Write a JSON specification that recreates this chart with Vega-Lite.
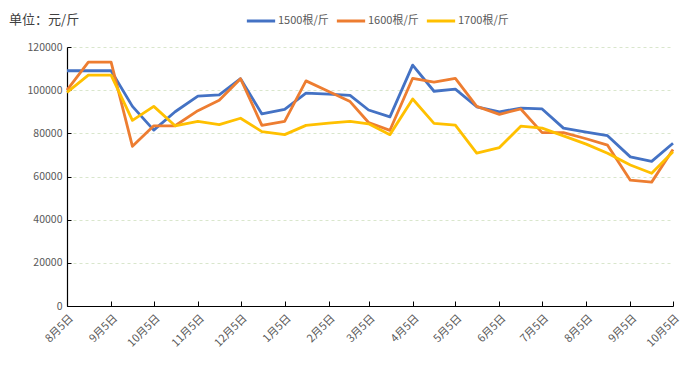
{
  "$schema": "https://vega.github.io/schema/vega-lite/v6.json",
  "autosize": {"type": "none"},
  "width": 606,
  "height": 259,
  "padding": {"left": 67, "top": 47, "right": 17, "bottom": 83},
  "background": "white",
  "config": {
    "view": {"stroke": null},
    "font": "Noto Sans CJK SC",
    "title": {"font": "Noto Sans CJK SC"},
    "axis": {"labelFont": "Noto Sans CJK SC", "titleFont": "Noto Sans CJK SC"},
    "legend": {"labelFont": "Noto Sans CJK SC"}
  },
  "title": {
    "text": "单位：元/斤",
    "anchor": "start",
    "frame": "bounds",
    "fontSize": 13,
    "fontWeight": "normal",
    "color": "#404040",
    "dx": -18,
    "dy": 26,
    "orient": "top"
  },
  "data": {
    "values": [
      {"date": "2022/08/05", "series": "1500根/斤", "price": 109000},
      {"date": "2022/08/20", "series": "1500根/斤", "price": 109000},
      {"date": "2022/09/05", "series": "1500根/斤", "price": 109000},
      {"date": "2022/09/20", "series": "1500根/斤", "price": 92500},
      {"date": "2022/10/05", "series": "1500根/斤", "price": 81500},
      {"date": "2022/10/20", "series": "1500根/斤", "price": 90000},
      {"date": "2022/11/05", "series": "1500根/斤", "price": 97200},
      {"date": "2022/11/20", "series": "1500根/斤", "price": 97800},
      {"date": "2022/12/05", "series": "1500根/斤", "price": 105300},
      {"date": "2022/12/20", "series": "1500根/斤", "price": 89000},
      {"date": "2023/01/05", "series": "1500根/斤", "price": 91100},
      {"date": "2023/01/20", "series": "1500根/斤", "price": 98600},
      {"date": "2023/02/05", "series": "1500根/斤", "price": 98200},
      {"date": "2023/02/20", "series": "1500根/斤", "price": 97600},
      {"date": "2023/03/05", "series": "1500根/斤", "price": 90800},
      {"date": "2023/03/20", "series": "1500根/斤", "price": 87600},
      {"date": "2023/04/05", "series": "1500根/斤", "price": 111600},
      {"date": "2023/04/20", "series": "1500根/斤", "price": 99500},
      {"date": "2023/05/05", "series": "1500根/斤", "price": 100500},
      {"date": "2023/05/20", "series": "1500根/斤", "price": 92300},
      {"date": "2023/06/05", "series": "1500根/斤", "price": 89900},
      {"date": "2023/06/20", "series": "1500根/斤", "price": 91700},
      {"date": "2023/07/05", "series": "1500根/斤", "price": 91300},
      {"date": "2023/07/20", "series": "1500根/斤", "price": 82400},
      {"date": "2023/08/05", "series": "1500根/斤", "price": 80600},
      {"date": "2023/08/20", "series": "1500根/斤", "price": 78900},
      {"date": "2023/09/05", "series": "1500根/斤", "price": 69100},
      {"date": "2023/09/20", "series": "1500根/斤", "price": 67000},
      {"date": "2023/10/05", "series": "1500根/斤", "price": 75400},
      {"date": "2022/08/05", "series": "1600根/斤", "price": 100000},
      {"date": "2022/08/20", "series": "1600根/斤", "price": 113000},
      {"date": "2022/09/05", "series": "1600根/斤", "price": 113000},
      {"date": "2022/09/20", "series": "1600根/斤", "price": 74000},
      {"date": "2022/10/05", "series": "1600根/斤", "price": 83500},
      {"date": "2022/10/20", "series": "1600根/斤", "price": 83500},
      {"date": "2022/11/05", "series": "1600根/斤", "price": 90500},
      {"date": "2022/11/20", "series": "1600根/斤", "price": 95300},
      {"date": "2022/12/05", "series": "1600根/斤", "price": 105300},
      {"date": "2022/12/20", "series": "1600根/斤", "price": 83700},
      {"date": "2023/01/05", "series": "1600根/斤", "price": 85500},
      {"date": "2023/01/20", "series": "1600根/斤", "price": 104300},
      {"date": "2023/02/05", "series": "1600根/斤", "price": 99400},
      {"date": "2023/02/20", "series": "1600根/斤", "price": 94700},
      {"date": "2023/03/05", "series": "1600根/斤", "price": 85000},
      {"date": "2023/03/20", "series": "1600根/斤", "price": 81400},
      {"date": "2023/04/05", "series": "1600根/斤", "price": 105500},
      {"date": "2023/04/20", "series": "1600根/斤", "price": 103700},
      {"date": "2023/05/05", "series": "1600根/斤", "price": 105500},
      {"date": "2023/05/20", "series": "1600根/斤", "price": 92500},
      {"date": "2023/06/05", "series": "1600根/斤", "price": 88800},
      {"date": "2023/06/20", "series": "1600根/斤", "price": 91300},
      {"date": "2023/07/05", "series": "1600根/斤", "price": 80300},
      {"date": "2023/07/20", "series": "1600根/斤", "price": 80300},
      {"date": "2023/08/05", "series": "1600根/斤", "price": 77500},
      {"date": "2023/08/20", "series": "1600根/斤", "price": 74500},
      {"date": "2023/09/05", "series": "1600根/斤", "price": 58300},
      {"date": "2023/09/20", "series": "1600根/斤", "price": 57400},
      {"date": "2023/10/05", "series": "1600根/斤", "price": 72500},
      {"date": "2022/08/05", "series": "1700根/斤", "price": 99000},
      {"date": "2022/08/20", "series": "1700根/斤", "price": 107000},
      {"date": "2022/09/05", "series": "1700根/斤", "price": 107000},
      {"date": "2022/09/20", "series": "1700根/斤", "price": 86000},
      {"date": "2022/10/05", "series": "1700根/斤", "price": 92500},
      {"date": "2022/10/20", "series": "1700根/斤", "price": 83500},
      {"date": "2022/11/05", "series": "1700根/斤", "price": 85500},
      {"date": "2022/11/20", "series": "1700根/斤", "price": 84000},
      {"date": "2022/12/05", "series": "1700根/斤", "price": 87000},
      {"date": "2022/12/20", "series": "1700根/斤", "price": 80800},
      {"date": "2023/01/05", "series": "1700根/斤", "price": 79400},
      {"date": "2023/01/20", "series": "1700根/斤", "price": 83700},
      {"date": "2023/02/05", "series": "1700根/斤", "price": 84700},
      {"date": "2023/02/20", "series": "1700根/斤", "price": 85500},
      {"date": "2023/03/05", "series": "1700根/斤", "price": 84400},
      {"date": "2023/03/20", "series": "1700根/斤", "price": 79400},
      {"date": "2023/04/05", "series": "1700根/斤", "price": 95900},
      {"date": "2023/04/20", "series": "1700根/斤", "price": 84600},
      {"date": "2023/05/05", "series": "1700根/斤", "price": 83800},
      {"date": "2023/05/20", "series": "1700根/斤", "price": 70800},
      {"date": "2023/06/05", "series": "1700根/斤", "price": 73400},
      {"date": "2023/06/20", "series": "1700根/斤", "price": 83300},
      {"date": "2023/07/05", "series": "1700根/斤", "price": 82400},
      {"date": "2023/07/20", "series": "1700根/斤", "price": 78800},
      {"date": "2023/08/05", "series": "1700根/斤", "price": 75000},
      {"date": "2023/08/20", "series": "1700根/斤", "price": 70800},
      {"date": "2023/09/05", "series": "1700根/斤", "price": 65300},
      {"date": "2023/09/20", "series": "1700根/斤", "price": 61500},
      {"date": "2023/10/05", "series": "1700根/斤", "price": 71500}
    ]
  },
  "mark": {"type": "line", "strokeWidth": 2.8, "strokeJoin": "round"},
  "encoding": {
    "x": {
      "field": "date",
      "type": "temporal",
      "scale": {
        "domain": [
          {"year": 2022, "month": 8, "date": 5},
          {"year": 2023, "month": 10, "date": 5}
        ],
        "nice": false
      },
      "axis": {
        "title": null,
        "values": [
          {"year": 2022, "month": 8, "date": 5},
          {"year": 2022, "month": 9, "date": 5},
          {"year": 2022, "month": 10, "date": 5},
          {"year": 2022, "month": 11, "date": 5},
          {"year": 2022, "month": 12, "date": 5},
          {"year": 2023, "month": 1, "date": 5},
          {"year": 2023, "month": 2, "date": 5},
          {"year": 2023, "month": 3, "date": 5},
          {"year": 2023, "month": 4, "date": 5},
          {"year": 2023, "month": 5, "date": 5},
          {"year": 2023, "month": 6, "date": 5},
          {"year": 2023, "month": 7, "date": 5},
          {"year": 2023, "month": 8, "date": 5},
          {"year": 2023, "month": 9, "date": 5},
          {"year": 2023, "month": 10, "date": 5}
        ],
        "format": "%-m月%-d日",
        "labelAngle": -45,
        "labelFontSize": 11,
        "labelColor": "#595959",
        "labelPadding": 11,
        "labelDx": -2,
        "labelOverlap": false,
        "labelFlush": false,
        "grid": false,
        "domainColor": "#000000",
        "domainWidth": 1.2,
        "tickColor": "#000000",
        "tickSize": -5,
        "tickWidth": 1
      }
    },
    "y": {
      "field": "price",
      "type": "quantitative",
      "scale": {"domain": [0, 120000], "nice": false},
      "axis": {
        "title": null,
        "values": [0, 20000, 40000, 60000, 80000, 100000, 120000],
        "format": "d",
        "labelFontSize": 10.5,
        "labelColor": "#595959",
        "labelPadding": 9,
        "grid": true,
        "gridColor": "#d9e6cc",
        "gridDash": [3, 3],
        "gridWidth": 1,
        "domainColor": "#000000",
        "domainWidth": 1.2,
        "tickColor": "#000000",
        "tickSize": -4,
        "ticks": true
      }
    },
    "color": {
      "field": "series",
      "type": "nominal",
      "scale": {
        "domain": ["1500根/斤", "1600根/斤", "1700根/斤"],
        "range": ["#4472C4", "#ED7D31", "#FFC000"]
      },
      "legend": {
        "title": null,
        "orient": "none",
        "direction": "horizontal",
        "legendX": 178,
        "legendY": -42,
        "symbolType": "stroke",
        "symbolSize": 800,
        "symbolStrokeWidth": 3,
        "labelFontSize": 11,
        "labelColor": "#595959",
        "labelOffset": 1,
        "columnPadding": 1
      }
    }
  }
}
